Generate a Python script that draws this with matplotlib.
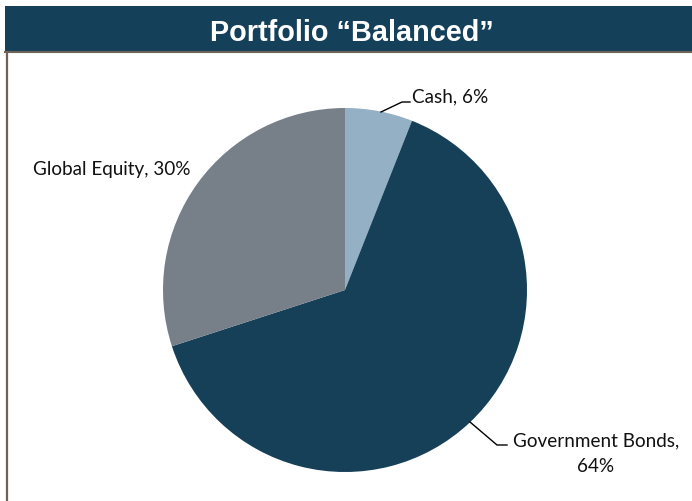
import matplotlib
matplotlib.use("Agg")
import matplotlib.pyplot as plt
from matplotlib.patches import Rectangle
from matplotlib.lines import Line2D

categories = ["Cash", "Government Bonds", "Global Equity"]
values = [6, 64, 30]
colors = ["#93B0C4", "#163F58", "#777F89"]
title = "Portfolio \u201cBalanced\u201d"

W, H = 692, 502
fig = plt.figure(figsize=(W / 100, H / 100), dpi=100)
fig.patch.set_facecolor("white")

def fx(px):
    return px / W

def fy(py):
    return 1 - py / H

# title bar
fig.patches.append(Rectangle((fx(5), fy(52)), fx(687), 45 / H, transform=fig.transFigure,
                             facecolor="#15405A", edgecolor="none"))
fig.text(fx(352), fy(41.3), title, color="white", fontsize=20.8, fontweight="bold",
         family="Liberation Sans", ha="center", va="baseline")
# frame lines
fig.lines.append(Line2D([fx(5), fx(692)], [fy(53), fy(53)], transform=fig.transFigure,
                        color="#6E6259", lw=1.5))
fig.lines.append(Line2D([fx(6.5), fx(6.5)], [fy(53), fy(502)], transform=fig.transFigure,
                        color="#6E6259", lw=1.6))

# pie axes
cx, cy, R = 345, 291, 182
ax = fig.add_axes([fx(cx - R), fy(cy + R), 2 * R / W, 2 * R / H])
ax.pie(values, colors=colors, startangle=90, counterclock=False, radius=1,
       wedgeprops=dict(linewidth=0))
ax.set_xlim(-1, 1)
ax.set_ylim(-1, 1)
ax.set_aspect("equal")
ax.axis("off")

def d(px, py):
    return ((px - cx) / R, (cy - py) / R)

lab_font = dict(family="Lato", fontsize=13.6, color="#111111", clip_on=False)

# Cash label with leader
p1, p2, p3 = d(381, 113), d(402, 103), d(410, 103)
ax.plot([p1[0], p2[0], p3[0]], [p1[1], p2[1], p3[1]], color="black", lw=1, clip_on=False)
t = d(412, 102.7)
ax.text(t[0], t[1], f"{categories[0]}, {values[0]}%", ha="left", va="baseline", **lab_font)

# Government Bonds label with leader
p1, p2, p3 = d(470, 423), d(497, 446), d(507, 446)
ax.plot([p1[0], p2[0], p3[0]], [p1[1], p2[1], p3[1]], color="black", lw=1, clip_on=False)
t = d(596, 446.7)
ax.text(t[0], t[1], f"{categories[1]},", ha="center", va="baseline", **lab_font)
t = d(596, 471.7)
ax.text(t[0], t[1], f"{values[1]}%", ha="center", va="baseline", **lab_font)

# Global Equity label
t = d(112, 175)
ax.text(t[0], t[1], f"{categories[2]}, {values[2]}%", ha="center", va="baseline", **lab_font)

fig.savefig("out.png", dpi=100, facecolor="white")
